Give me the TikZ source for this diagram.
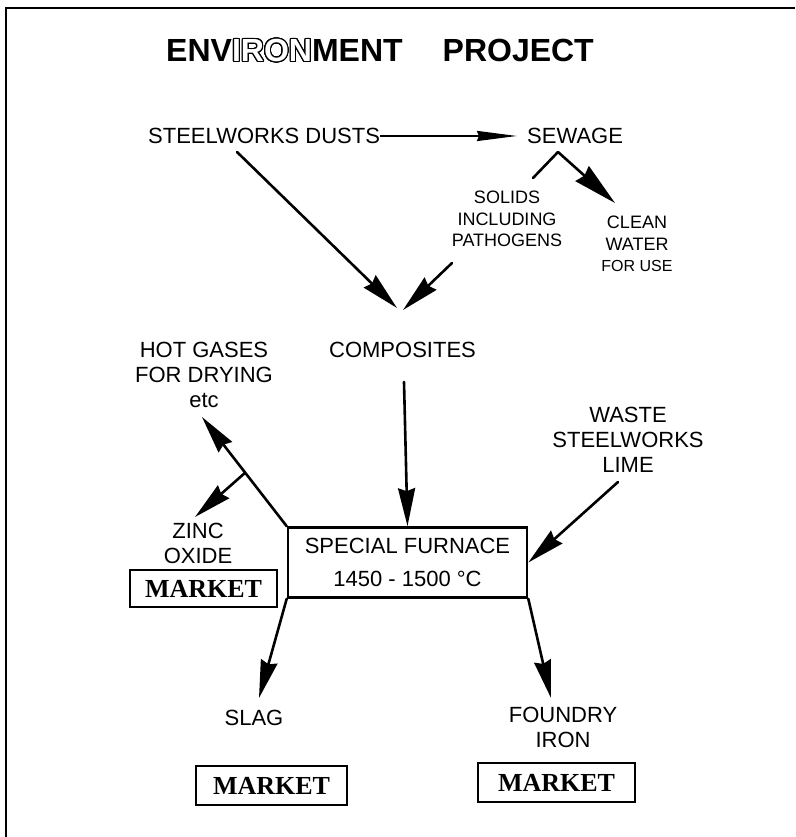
\documentclass[tikz,border=0pt]{standalone}
\usepackage{fontspec}
\setmainfont{Liberation Sans}
\newfontfamily\mkfont{Liberation Serif}
\usepackage{contour}
\contourlength{1.1pt}
\contournumber{24}
\usetikzlibrary{arrows.meta,calc}
\begin{document}
\begin{tikzpicture}[x=1pt,y=-1pt,
  lbl/.style={inner sep=0pt, font=\fontsize{22}{25}\selectfont, align=center},
  small/.style={inner sep=0pt, font=\fontsize{18}{21.5}\selectfont, align=center},
  mk/.style={draw, line width=2.6pt, inner sep=0pt, font=\mkfont\bfseries\fontsize{26}{30}\selectfont},
  arr/.style={line width=2.6pt, line cap=round, -{Stealth[length=38pt,width=17pt,inset=3pt]}},
  bigarr/.style={line width=2.6pt, line cap=round, -{Stealth[length=44pt,width=20pt,inset=3pt]}},
  horarr/.style={line width=2.2pt, -{Stealth[length=40pt,width=10pt,inset=2pt]}},
  ln/.style={line width=2.6pt, line cap=round},
  frame/.style={line width=2.5pt}]
\useasboundingbox (0,0) rectangle (795,837);

% frame
\draw[frame] (6,837) -- (6,8) -- (795,8);

% title
\node[inner sep=0pt, anchor=north, font=\fontsize{32}{36}\selectfont\bfseries] (title) at (380,39)
  {ENV\contour{black}{\textcolor{white}{IRON}}MENT\hspace{40pt}PROJECT};

% labels
\node[lbl, anchor=north west] (dusts) at (148,128) {STEELWORKS DUSTS};
\node[lbl, anchor=north west] (sewage) at (527,128) {SEWAGE};
\node[small, anchor=north] (solids) at (507,191) {SOLIDS\\INCLUDING\\PATHOGENS};
\node[small, anchor=north] (clean) at (637,216) {CLEAN\\WATER\\{\fontsize{16}{21.5}\selectfont FOR USE}};
\node[lbl, anchor=north] (comp) at (402.5,342) {COMPOSITES};
\node[lbl, anchor=north] (hot) at (204,342) {HOT GASES\\FOR DRYING\\etc};
\node[lbl, anchor=north] (waste) at (628,407) {WASTE\\STEELWORKS\\LIME};
\node[lbl, anchor=north] (zinc) at (198,523) {ZINC\\OXIDE};
\node[draw, line width=2.6pt, minimum width=239pt, minimum height=70pt, inner sep=0pt,
      align=center, font=\fontsize{22}{33}\selectfont] (furn) at (407.5,562.5)
  {SPECIAL FURNACE\\1450 - 1500 °C};
\node[mk, minimum width=147pt, minimum height=37pt] (mk1) at (203.5,588.5) {MARKET};
\node[lbl, anchor=north] (slag) at (254,710) {SLAG};
\node[lbl, anchor=north] (foundry) at (563,707) {FOUNDRY\\IRON};
\node[mk, minimum width=151pt, minimum height=39pt] (mk2) at (271.5,785.5) {MARKET};
\node[mk, minimum width=157pt, minimum height=39pt] (mk3) at (556.5,782.5) {MARKET};

% free ends
\coordinate (dstart) at (237,152);
\coordinate (ctip1) at (397,308);
\coordinate (sstart) at (452,263);
\coordinate (ctip2) at (403,310);
\coordinate (sv) at (558,152);
\coordinate (sl) at (533,178);
\coordinate (cw) at (615,203);
\coordinate (cstart) at (404,382);
\coordinate (hgtip) at (202,417);
\coordinate (zj) at ($(furn.north west)!0.49!(hgtip)$);
\coordinate (ztip) at (195,517);
\coordinate (lstart) at (618,482);
\coordinate (sltip) at (259,698);
\coordinate (fitip) at (551,698);

% connectors
\draw[horarr, shorten >=10pt] (dusts.east) -- (sewage.west);
\draw[ln] (sl) -- (sv);
\draw[bigarr] (sv) -- (cw);
\draw[arr] (dstart) -- (ctip1);
\draw[arr] (sstart) -- (ctip2);
\draw[arr] (cstart) -- (furn.north);
\draw[arr] (furn.north west) -- (hgtip);
\draw[arr] (zj) -- (ztip);
\draw[arr] (lstart) -- (furn.east);
\draw[arr] (furn.south west) -- (sltip);
\draw[arr] (furn.south east) -- (fitip);
\end{tikzpicture}
\end{document}
